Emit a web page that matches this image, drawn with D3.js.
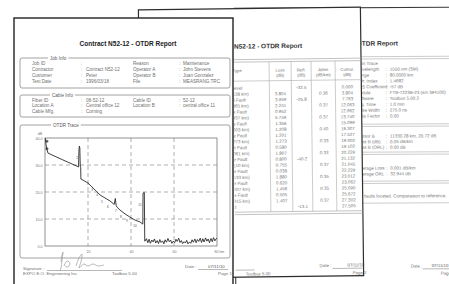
<!DOCTYPE html>
<html>
<head>
<meta charset="utf-8">
<script src="https://cdn.jsdelivr.net/npm/d3@7"></script>
<style>
  body { margin: 0; background: #fff; }
  svg { display: block; font-family: "Liberation Sans", Arial, sans-serif; }
</style>
</head>
<body>
<div class="wrapper"></div>
<script>
// ---- report data ----
var reportTitle = "Contract N52-12 - OTDR Report";

var jobLabels = ["Job ID", "Contractor", "Customer", "Test Date"];
var jobValues = ["", "Contract N52-12", "Peter", "1996/03/18"];
var jobLabels2 = ["Reason", "Operator A", "Operator B", "File"];
var jobValues2 = ["Maintenance", "John Stevens", "Juan Gonzalez", "MEASRANG.TRC"];

var cableLabels = ["Fiber ID", "Location A", "Cable Mfg."];
var cableValues = ["08-52-12", "Central office 12", "Corning"];
var cableLabels2 = ["Cable ID", "Location B"];
var cableValues2 = ["52-12", "central office 11"];

// OTDR trace, [km, dB]
var trace = [
  [0, 40], [0.2, 39.6], [0.5, 37.4], [0.9, 35.8], [1.4, 34.4], [8, 32.0],
  [15.6, 29.3], [15.8, 35.8], [16.0, 37.0], [16.2, 36.3], [16.4, 29.6],
  [16.6, 29.2], [16.7, 24.8], [17.7, 24.4], [20, 23.3], [22.3, 21.5],
  [24, 20.2], [25.6, 18.9], [27.9, 17.8], [30.2, 16.7], [32.2, 15.4],
  [32.7, 17.6], [33.1, 15.0], [33.5, 14.4], [34.9, 13.3], [37.2, 11.9],
  [39.5, 10.7], [41.9, 9.6], [44.2, 8.9], [45.5, 8.1], [45.6, 19.6],
  [46.2, 19.8], [46.4, 1.8]
];
var noise = [
  [46.6, 1.9], [47.2, 2.7], [47.8, 1.2], [48.4, 2.5], [49.0, 1.0], [49.7, 2.2],
  [50.3, 1.5], [50.9, 2.6], [51.5, 1.1], [52.2, 2.0], [52.8, 0.9], [53.4, 2.4],
  [54.0, 1.3], [54.7, 1.9], [55.3, 0.8], [55.9, 2.3], [56.5, 1.4], [57.2, 2.8],
  [57.8, 1.6], [58.4, 2.2], [59.0, 1.0], [59.7, 1.8], [60.3, 1.2], [60.9, 2.5],
  [61.5, 1.7], [62.2, 2.9], [62.8, 1.3], [63.4, 2.0], [64.0, 0.9], [64.7, 1.6],
  [65.3, 1.1], [65.9, 2.1], [66.5, 0.8], [67.2, 1.5], [67.8, 1.0], [68.4, 2.3],
  [69.0, 1.4], [69.7, 2.6], [70.3, 1.2], [70.9, 2.4], [71.5, 1.7], [72.2, 2.9],
  [72.8, 1.3], [73.4, 2.7], [74.0, 1.5], [74.7, 3.0], [75.3, 1.8], [75.9, 2.6],
  [76.5, 1.2], [77.2, 2.8], [77.8, 1.6], [78.4, 3.1], [79.0, 1.9], [79.6, 2.7],
  [80.0, 2.9]
];
// event numbers printed next to the trace
var eventLabels = [
  { n: "2", km: 14.9, db: 32.2 }, { n: "1", km: 20.0, db: 22.6 },
  { n: "3", km: 21.9, db: 20.4 }, { n: "4", km: 24.2, db: 18.5 },
  { n: "5", km: 26.5, db: 15.9 }, { n: "6", km: 29.3, db: 14.1 },
  { n: "7", km: 33.0, db: 12.6 }, { n: "8", km: 35.3, db: 10.4 },
  { n: "9", km: 38.1, db: 8.9 }, { n: "10", km: 41.9, db: 7.0 },
  { n: "11", km: 44.2, db: 14.8 }
];
var startMarkers = [[0.9, 38.8], [0.9, 36.0]];
var xTicks = [20, 40, 60, 80];
var yTicks = [0, 10, 20, 30, 40];

// page 2: event table
var tableHeads = [["Type", ""], ["Loss", "(dB)"], ["Refl.", "(dB)"], ["Atten", "(dB/km)"], ["Cumul.", "(dB)"]];
var tableTypes = ["Launch Level", "Span (9.138 km)", "Reflected Fault", "Span (6.365 km)",
  "Reflective Fault", "Span (2.937 km)", "Reflective Fault", "Span (2.003 km)",
  "Reflective Fault", "Span (2.073 km)", "Reflective Fault", "Span (2.061 km)",
  "Reflective Fault", "Span (2.110 km)", "Reflective Fault", "Span (2.133 km)",
  "Reflective Fault", "Span (2.007 km)", "Reflective Fault", "Span (2.915 km)", "Fiber End"];
var tableLoss = ["", "3.804", "3.959", "2.241", "0.952", "5.749", "1.356", "1.208", "1.201", "1.273",
  "0.580", "1.807", "0.800", "0.755", "0.038", "1.880", "0.620", "1.456", "0.505", "1.407", ""];
var tableRefl = ["-32.5", "", "-25.8", "", "", "", "", "", "", "", "", "", "-40.2", "", "", "", "", "", "", "", "-13.1"];
var tableAtten = ["", "0.36", "", "0.37", "", "0.37", "", "0.40", "", "0.33", "", "0.33", "", "0.37", "",
  "0.35", "", "0.35", "", "0.37", ""];
var tableCumul = ["0.000", "3.804", "7.763", "12.063", "12.962", "13.740", "15.099", "16.307", "17.527",
  "19.002", "19.102", "20.229", "21.132", "21.045", "22.229", "23.012", "23.062", "25.090",
  "25.672", "27.302", "27.505"];

// page 3: acquisition settings and summary
var setupLabels = ["Main Trace", "Wavelength", "Range", "Refr. Index", "RBS Coefficient", "Module",
  "Software", "Acq. Time", "Pulse Width", "Helix Factor"];
var setupValues = ["", "1550 nm (SM)", "80.0000 km", "1.4682", "-57 dB", "FTB-7223B-23 (s/n 394100)",
  "Toolbox 5.00.2", "1.0 min", "275.0 ns", "0.00"];
var cursorLabels = ["Cursor B", "Loss B (dB)", "Loss B (ORL)"];
var cursorValues = ["11330.28 km, 20.72 dB", "0.05 dB/km", "0.00 dB"];
var summaryLabels = ["Average Loss", "Average ORL"];
var summaryValues = ["0.001 dB/km", "32.944 dB"];
var commentText = "No faults located. Comparaison to reference.";

var footer = { company: "EXPO E.O. Engineering Inc.", software: "Toolbox 5.00", date: "07/11/10" };
var signature = [
  [[61, 262], [62, 255], [63, 252], [62, 260], [61, 268], [60, 271]],
  [[64, 266], [67, 261], [70, 263], [68, 267], [65, 266]],
  [[76, 266], [79, 258], [82, 254], [81, 262], [79, 268], [84, 264], [88, 266], [93, 264], [98, 266], [104, 265]]
];

// ---- drawing ----
var W = 449, H = 284;
var svg = d3.select(".wrapper").append("svg").attr("width", W).attr("height", H);
var defs = svg.append("defs");

// the pages lie on top of each other: only the part right of the upper page shows
defs.append("clipPath").attr("id", "clip-p3")
  .append("rect").attr("x", 362).attr("y", 0).attr("width", 120).attr("height", H + 30);
defs.append("clipPath").attr("id", "clip-p2")
  .append("rect").attr("x", 234).attr("y", 0).attr("width", 140).attr("height", H + 30);

function addText(g, x, y, s, size, fill, anchor, weight) {
  return g.append("text")
    .attr("x", x).attr("y", y)
    .attr("font-size", size)
    .attr("fill", fill || "#707070")
    .attr("text-anchor", anchor || "start")
    .attr("font-weight", weight || "normal")
    .text(s);
}

function hLine(g, x1, x2, y, color, w) {
  g.append("line").attr("x1", x1).attr("x2", x2).attr("y1", y).attr("y2", y)
    .attr("stroke", color || "#999").attr("stroke-width", w || 0.7);
}

function vLine(g, x, y1, y2, color, w) {
  g.append("line").attr("x1", x).attr("x2", x).attr("y1", y1).attr("y2", y2)
    .attr("stroke", color || "#999").attr("stroke-width", w || 0.7);
}

function infoBox(g, x, y, w, h, title, tx) {
  g.append("rect").attr("x", x).attr("y", y).attr("width", w).attr("height", h)
    .attr("rx", 2).attr("fill", "none").attr("stroke", "#8a8a8a").attr("stroke-width", 0.8);
  var t = addText(g, tx, y + 1.6, title, 4.6, "#5a5a5a");
  var len = t.node().getComputedTextLength();
  g.insert("rect", function() { return t.node(); })
    .attr("x", tx - 2).attr("y", y - 2).attr("width", len + 4).attr("height", 4).attr("fill", "#fff");
}

function footerDate(g, x, y, ux1, ux2, vx) {
  addText(g, x, y, "Date :", 4.4);
  hLine(g, ux1, ux2, y + 1.5, "#888", 0.6);
  addText(g, vx, y - 0.3, footer.date, 4.4, "#5a5a5a");
}

// ---------- page 3 (back) ----------
var p3page = svg.append("g").attr("transform", "rotate(-0.3,400,140)");
p3page.append("rect").attr("x", 235).attr("y", 7.5).attr("width", 240).attr("height", 300)
  .attr("fill", "#fff").attr("stroke", "#3a3a3a").attr("stroke-width", 1.1);
var p3 = p3page.append("g").attr("clip-path", "url(#clip-p3)");
addText(p3, 350, 45.5, reportTitle, 6.5, "#333", "middle", "bold");
hLine(p3, 235, 475, 56.5, "#aaa", 0.6);
hLine(p3, 235, 475, 58.8, "#aaa", 0.6);
setupLabels.forEach(function(d, i) {
  var yy = 64.8 + i * 5.85;
  addText(p3, 356, yy, d, 4.5, "#777");
  if (setupValues[i]) {
    addText(p3, 386, yy, ":", 4.5, "#777");
    addText(p3, 390, yy, setupValues[i], 4.5, "#777");
  }
});
hLine(p3, 235, 475, 124, "#aaa", 0.6);
hLine(p3, 235, 475, 126.3, "#aaa", 0.6);
cursorLabels.forEach(function(d, i) {
  var yy = 137.5 + i * 5.6;
  addText(p3, 357, yy, d, 4.5, "#777");
  addText(p3, 386, yy, ":", 4.5, "#777");
  addText(p3, 390, yy, cursorValues[i], 4.5, "#777");
});
hLine(p3, 235, 475, 152, "#aaa", 0.6);
hLine(p3, 235, 475, 154.3, "#aaa", 0.6);
summaryLabels.forEach(function(d, i) {
  var yy = 169.5 + i * 5.8;
  addText(p3, 357, yy, d, 4.5, "#777");
  addText(p3, 386, yy, ":", 4.5, "#777");
  addText(p3, 390, yy, summaryValues[i], 4.5, "#777");
});
hLine(p3, 235, 475, 181, "#aaa", 0.6);
hLine(p3, 235, 475, 183.3, "#aaa", 0.6);
addText(p3, 357, 197.5, commentText, 4.5, "#777");
hLine(p3, 235, 475, 203, "#aaa", 0.6);
footerDate(p3, 410, 267.5, 422, 449, 431);
addText(p3, 440, 275, "Page 3", 4.4);

// ---------- page 2 (middle) ----------
var p2page = svg.append("g").attr("transform", "rotate(-0.7,250,140)");
p2page.append("rect").attr("x", 140).attr("y", 8.5).attr("width", 222).attr("height", 268.5)
  .attr("fill", "#fff").attr("stroke", "#2e2e2e").attr("stroke-width", 1.2);
var p2 = p2page.append("g").attr("clip-path", "url(#clip-p2)");
addText(p2, 255, 48.5, reportTitle, 6.5, "#333", "middle", "bold");

var colSep = [270, 292, 312, 336];
var colCenter = [238, 281, 302, 324, 348];
hLine(p2, 140, 362, 59.5, "#999", 0.6);
hLine(p2, 140, 362, 62, "#999", 0.6);
colSep.forEach(function(cx) { vLine(p2, cx, 62, 212, "#aaa", 0.6); });
tableHeads.forEach(function(h, i) {
  addText(p2, colCenter[i], 72, h[0], 4.3, "#6c6c6c", "middle");
  if (h[1]) addText(p2, colCenter[i], 77.2, h[1], 4.3, "#6c6c6c", "middle");
});
hLine(p2, 140, 362, 81, "#aaa", 0.6);
tableTypes.forEach(function(d, i) {
  var yy = 89.6 + i * 5.95;
  addText(p2, 216, yy, d, 4.5, "#777");
  addText(p2, colCenter[1], yy, tableLoss[i], 4.5, "#777", "middle");
  addText(p2, colCenter[2], yy, tableRefl[i], 4.5, "#777", "middle");
  addText(p2, colCenter[3], yy, tableAtten[i], 4.5, "#777", "middle");
  addText(p2, colCenter[4], yy, tableCumul[i], 4.5, "#777", "middle");
});
hLine(p2, 140, 362, 212, "#999", 0.6);
hLine(p2, 140, 362, 214.5, "#999", 0.6);
hLine(p2, 178, 253, 270, "#888", 0.6);
addText(p2, 244, 275.5, footer.software, 4.4);
footerDate(p2, 318, 268, 331, 361, 346);
addText(p2, 351, 275.5, "Page 2", 4.4);

// ---------- page 1 (front) ----------
var g = svg.append("g").attr("class", "page-1");
g.append("rect").attr("x", 14).attr("y", 18).attr("width", 219).attr("height", 290)
  .attr("fill", "#fff").attr("stroke", "#222").attr("stroke-width", 1.4);
addText(g, 128, 45.6, reportTitle, 6.5, "#222", "middle", "bold");

// Job info
infoBox(g, 20, 58, 210, 30, "Job Info", 50);
jobLabels.forEach(function(d, i) {
  var yy = 65 + i * 6;
  addText(g, 32, yy, d, 4.6);
  addText(g, 81, yy, ":", 4.6);
  addText(g, 86, yy, jobValues[i], 4.6);
  addText(g, 133, yy, jobLabels2[i], 4.6);
  addText(g, 179, yy, ":", 4.6);
  addText(g, 183, yy, jobValues2[i], 4.6);
});

// Cable info
infoBox(g, 20, 95, 210, 22, "Cable Info", 52);
cableLabels.forEach(function(d, i) {
  var yy = 101.6 + i * 5.8;
  addText(g, 32, yy, d, 4.6);
  addText(g, 81, yy, ":", 4.6);
  addText(g, 86, yy, cableValues[i], 4.6);
  if (cableLabels2[i]) {
    addText(g, 133, yy, cableLabels2[i], 4.6);
    addText(g, 179, yy, ":", 4.6);
    addText(g, 183, yy, cableValues2[i], 4.6);
  }
});

// OTDR trace
infoBox(g, 20, 125, 210, 133, "OTDR Trace", 53);
var x = d3.scaleLinear().domain([0, 80]).range([45, 217]);
var y = d3.scaleLinear().domain([0, 40]).range([246, 138]);

var plot = g.append("g").attr("class", "trace-plot");
plot.selectAll(".hgrid").data(yTicks.slice(1, -1)).enter().append("line")
  .attr("class", "hgrid")
  .attr("x1", x(0)).attr("x2", x(80))
  .attr("y1", d => y(d)).attr("y2", d => y(d))
  .attr("stroke", "#8c8c8c").attr("stroke-width", 0.7).attr("stroke-dasharray", "4,3");
plot.selectAll(".vgrid").data(xTicks.slice(0, -1)).enter().append("line")
  .attr("class", "vgrid")
  .attr("x1", d => x(d)).attr("x2", d => x(d))
  .attr("y1", y(40)).attr("y2", y(0))
  .attr("stroke", "#8c8c8c").attr("stroke-width", 0.7).attr("stroke-dasharray", "4,3");
plot.append("rect")
  .attr("x", x(0)).attr("y", y(40))
  .attr("width", x(80) - x(0)).attr("height", y(0) - y(40))
  .attr("fill", "none").attr("stroke", "#777").attr("stroke-width", 0.8);

var yAxis = plot.append("g").attr("transform", "translate(" + x(0) + ",0)")
  .call(d3.axisLeft(y).tickValues(yTicks).tickFormat(d3.format(".1f")).tickSize(0).tickPadding(2.5));
var xAxis = plot.append("g").attr("transform", "translate(0," + y(0) + ")")
  .call(d3.axisBottom(x).tickValues(xTicks).tickFormat(d => d === 80 ? "80 km" : d).tickSize(0).tickPadding(4));
[yAxis, xAxis].forEach(function(a) {
  a.select(".domain").remove();
  a.selectAll("text").attr("font-size", 3.6).attr("fill", "#777")
    .attr("font-family", "Liberation Sans, Arial, sans-serif");
});
xAxis.selectAll("text").filter(d => d === 80).attr("text-anchor", "start").attr("x", -3);
addText(plot, 40, 134.5, "dB", 3.6, "#777", "middle");

var line = d3.line().x(d => x(d[0])).y(d => y(d[1]));
plot.append("path")
  .datum(trace.concat(noise))
  .attr("d", line)
  .attr("fill", "none").attr("stroke", "#2a2a2a").attr("stroke-width", 0.9)
  .attr("stroke-linejoin", "round");

plot.selectAll(".marker").data(startMarkers).enter().append("path")
  .attr("class", "marker")
  .attr("transform", d => "translate(" + x(d[0]) + "," + y(d[1]) + ")")
  .attr("d", d3.symbol(d3.symbolCross, 5))
  .attr("fill", "#333");

plot.selectAll(".event").data(eventLabels).enter().append("text")
  .attr("class", "event")
  .attr("x", d => x(d.km)).attr("y", d => y(d.db))
  .attr("font-size", 3.2).attr("fill", "#555").attr("text-anchor", "middle")
  .text(d => d.n);

// footer
addText(g, 23, 269.5, "Signature :", 4.4);
hLine(g, 47, 122, 270.5, "#888", 0.6);
var sigLine = d3.line().curve(d3.curveCatmullRom);
signature.forEach(function(s) {
  g.append("path").attr("d", sigLine(s))
    .attr("fill", "none").attr("stroke", "#9a9a9a").attr("stroke-width", 0.7);
});
addText(g, 23, 275.3, footer.company, 4.4);
addText(g, 112, 275.3, footer.software, 4.4);
footerDate(g, 185, 268, 198, 228, 208);
addText(g, 218, 275, "Page 1", 4.4);
</script>
</body>
</html>
